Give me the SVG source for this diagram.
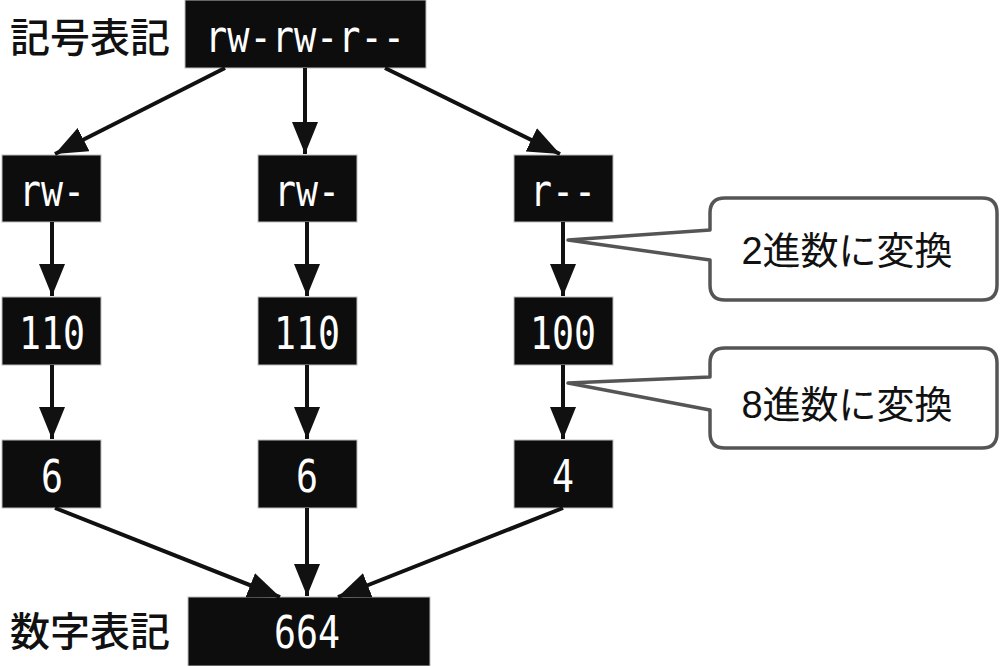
<svg xmlns="http://www.w3.org/2000/svg" width="1000" height="666" viewBox="0 0 1000 666">
<style>
.box{fill:#0d0d0d;stroke:#bdbdbd;stroke-width:1}
.mono{font-family:"DejaVu Sans Mono","Liberation Mono",monospace;fill:#fff;font-size:44px;text-anchor:middle;dominant-baseline:central}
.lbl{font-family:"Noto Sans CJK JP",sans-serif;font-size:40px;font-weight:500;fill:#111}
.call{fill:#fff;stroke:#555;stroke-width:3.5;stroke-linejoin:round}
.ctext{font-family:"Liberation Sans","Noto Sans CJK JP",sans-serif;font-size:38px;fill:#111;text-anchor:middle;dominant-baseline:central}
.edge{stroke:#111;stroke-width:4;fill:none;marker-end:url(#ah)}
</style>
<defs>
<marker id="ah" markerUnits="userSpaceOnUse" markerWidth="32" markerHeight="26" refX="32" refY="13" orient="auto">
<path d="M0,0 L32,13 L0,26 Z" fill="#111"/>
</marker>
</defs>
<rect width="1000" height="666" fill="#fff"/>
<g id="label-symbol"><text class="lbl" x="10" y="52">記号表記</text></g>
<g id="label-number"><text class="lbl" x="10" y="646">数字表記</text></g>
<g id="top"><rect class="box" x="185" y="0" width="241" height="68"/><text class="mono" x="305" y="36" textLength="200" lengthAdjust="spacingAndGlyphs">rw-rw-r--</text></g>
<g id="a1"><rect class="box" x="2" y="155" width="99" height="67"/><text class="mono" x="52" y="190" textLength="66" lengthAdjust="spacingAndGlyphs">rw-</text></g>
<g id="b1"><rect class="box" x="258" y="155" width="99" height="67"/><text class="mono" x="307" y="190" textLength="66" lengthAdjust="spacingAndGlyphs">rw-</text></g>
<g id="c1"><rect class="box" x="514" y="155" width="99" height="67"/><text class="mono" x="563" y="190" textLength="66" lengthAdjust="spacingAndGlyphs">r--</text></g>
<g id="a2"><rect class="box" x="2" y="297" width="99" height="68"/><text class="mono" x="52" y="333" textLength="66" lengthAdjust="spacingAndGlyphs">110</text></g>
<g id="b2"><rect class="box" x="258" y="297" width="99" height="68"/><text class="mono" x="307" y="333" textLength="66" lengthAdjust="spacingAndGlyphs">110</text></g>
<g id="c2"><rect class="box" x="514" y="297" width="99" height="68"/><text class="mono" x="563" y="333" textLength="66" lengthAdjust="spacingAndGlyphs">100</text></g>
<g id="a3"><rect class="box" x="2" y="440" width="99" height="68"/><text class="mono" x="52" y="476" textLength="22" lengthAdjust="spacingAndGlyphs">6</text></g>
<g id="b3"><rect class="box" x="258" y="440" width="99" height="68"/><text class="mono" x="307" y="476" textLength="22" lengthAdjust="spacingAndGlyphs">6</text></g>
<g id="c3"><rect class="box" x="514" y="440" width="99" height="68"/><text class="mono" x="563" y="476" textLength="22" lengthAdjust="spacingAndGlyphs">4</text></g>
<g id="bottom"><rect class="box" x="188" y="597" width="242" height="69"/><text class="mono" x="307" y="632" textLength="66" lengthAdjust="spacingAndGlyphs">664</text></g>
<g id="callout1"><path class="call" d="M725,198 H982 Q997,198 997,213 V285 Q997,300 982,300 H725 Q710,300 710,285 V260 L568,240 L710,230 V213 Q710,198 725,198 Z"/><text class="ctext" x="847" y="251">2進数に変換</text></g>
<g id="callout2"><path class="call" d="M725,348 H982 Q997,348 997,363 V433 Q997,448 982,448 H725 Q710,448 710,433 V410 L568,383 L710,377 V363 Q710,348 725,348 Z"/><text class="ctext" x="847" y="405">8進数に変換</text></g>
<g id="connectors">
<line class="edge" x1="225" y1="68" x2="55" y2="154"/>
<line class="edge" x1="305" y1="68" x2="305" y2="154"/>
<line class="edge" x1="385" y1="68" x2="560" y2="154"/>
<line class="edge" x1="52" y1="222" x2="52" y2="296"/>
<line class="edge" x1="307" y1="222" x2="307" y2="296"/>
<line class="edge" x1="563" y1="222" x2="563" y2="296"/>
<line class="edge" x1="52" y1="365" x2="52" y2="439"/>
<line class="edge" x1="307" y1="365" x2="307" y2="439"/>
<line class="edge" x1="563" y1="365" x2="563" y2="439"/>
<line class="edge" x1="55" y1="508" x2="280" y2="597"/>
<line class="edge" x1="307" y1="508" x2="307" y2="596"/>
<line class="edge" x1="563" y1="508" x2="338" y2="597"/>
</g>
</svg>
